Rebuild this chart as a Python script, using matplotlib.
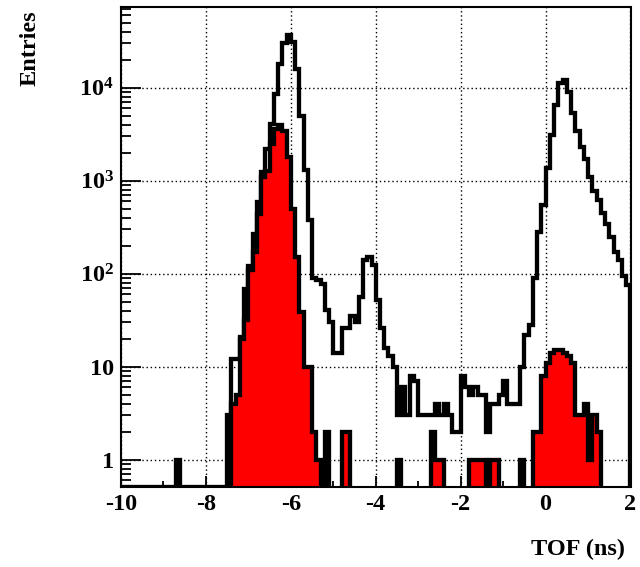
import numpy as np
import matplotlib
matplotlib.use("Agg")
import matplotlib.pyplot as plt
from matplotlib.ticker import FixedLocator, FixedFormatter, LogLocator, NullFormatter

# ---------------- data (TOF histogram, 0.1 ns bins from -10 to 2 ns) ----------------
x_min, x_max, n_bins = -10.0, 2.0, 120

# all entries, bins in rows of 10 (row k starts at -10 + k)
all_counts = [
    0, 0, 0, 0, 0, 0, 0, 0, 0, 0,                                # -10.0 .. -9.1
    0, 0, 0, 1, 0, 0, 0, 0, 0, 0,                                # -9.0 .. -8.1
    0, 0, 0, 0, 0, 3, 12, 12, 21, 68,                            # -8.0 .. -7.1
    122, 267, 588, 1240, 2210, 4100, 8500, 18000, 30500, 37000,  # -7.0 .. -6.1
    31000, 16000, 5000, 1300, 380, 90, 85, 78, 41, 30,           # -6.0 .. -5.1
    14, 14, 26, 26, 35, 30, 56, 140, 150, 123,                   # -5.0 .. -4.1
    52, 26, 16, 13, 10, 3, 6, 3, 8, 7,                           # -4.0 .. -3.1
    3, 3, 3, 3, 4, 3, 4, 3, 2, 2,                                # -3.0 .. -2.1
    8, 6, 5, 6, 5, 5, 2, 4, 4, 5,                                # -2.0 .. -1.1
    7, 4, 4, 4, 10, 22, 28, 90, 285, 550,                        # -1.0 .. -0.1
    1370, 3100, 6500, 11200, 12200, 9000, 5300, 3400, 2300, 1700,  # 0.0 .. 0.9
    1100, 770, 620, 450, 340, 250, 170, 140, 94, 76,             # 1.0 .. 1.9
]

# selected entries (red)
selected_counts = [
    0, 0, 0, 0, 0, 0, 0, 0, 0, 0,
    0, 0, 0, 0, 0, 0, 0, 0, 0, 0,
    0, 0, 0, 0, 0, 0, 4, 5, 20, 32,
    110, 170, 440, 1100, 1280, 2500, 3600, 4000, 3400, 1800,
    500, 150, 39, 10, 10, 2, 1, 0, 2, 0,
    0, 0, 2, 2, 0, 0, 0, 0, 0, 0,
    0, 0, 0, 0, 0, 1, 0, 0, 0, 0,
    0, 0, 0, 2, 1, 1, 0, 0, 0, 0,
    0, 0, 1, 1, 1, 1, 0, 1, 1, 0,
    0, 0, 0, 0, 1, 0, 0, 2, 2, 8,
    11, 14, 15, 15, 14, 13, 11, 3, 3, 4,
    1, 3, 2, 0, 0, 0, 0, 0, 0, 0,
]

x_tick_values = [-10, -8, -6, -4, -2, 0, 2]
y_tick_values = [1, 10, 100, 1000, 10000]
y_tick_labels = ["1", "10", r"$10^{2}$", r"$10^{3}$", r"$10^{4}$"]
y_range = (0.51, 7.4e4)
x_title = "TOF (ns)"
y_title = "Entries"

# ---------------- style ----------------
plt.rcParams["font.family"] = ["Liberation Serif", "DejaVu Serif"]
plt.rcParams["font.weight"] = "bold"
plt.rcParams["mathtext.fontset"] = "custom"
plt.rcParams["mathtext.rm"] = "Liberation Serif:bold"
plt.rcParams["mathtext.it"] = "Liberation Serif:bold"
plt.rcParams["mathtext.bf"] = "Liberation Serif:bold"
plt.rcParams["mathtext.default"] = "rm"

W, H = 640, 567
fig = plt.figure(figsize=(W / 100, H / 100), dpi=100)
fig.patch.set_facecolor("white")
ax = fig.add_axes([121 / W, 1 - 487 / H, (630.5 - 121) / W, (487 - 7) / H])

edges = np.linspace(x_min, x_max, n_bins + 1)
allv = np.array(all_counts, dtype=float)
selv = np.array(selected_counts, dtype=float)
floor = y_range[0]          # empty bins sit on the frame bottom, as in ROOT
allv_plot = np.where(allv > 0, allv, floor)
selv_plot = np.where(selv > 0, selv, 1e-3)

ax.set_yscale("log")
ax.set_xlim(x_min, x_max)
ax.set_ylim(*y_range)

ax.set_axisbelow(True)
ax.grid(True, which="major", linestyle=(0, (1, 2)), color="black", lw=1.0)

LW = 3.1
h_all = ax.stairs(allv_plot, edges, color="black", lw=LW, baseline=floor, zorder=3)
h_all.set_joinstyle("miter")
h_sel = ax.stairs(selv_plot, edges, fill=True, facecolor="red", edgecolor="black",
                  lw=LW, baseline=1e-3, zorder=4)
h_sel.set_joinstyle("miter")

# axes & ticks
ax.xaxis.set_major_locator(FixedLocator(x_tick_values))
ax.xaxis.set_major_formatter(FixedFormatter([str(v) for v in x_tick_values]))
ax.xaxis.set_minor_locator(FixedLocator(np.arange(x_min, x_max + 0.01, 1.0)))
ax.yaxis.set_major_locator(FixedLocator(y_tick_values))
ax.yaxis.set_major_formatter(FixedFormatter(y_tick_labels))
ax.yaxis.set_minor_locator(LogLocator(base=10, subs=np.arange(2, 10)))
ax.yaxis.set_minor_formatter(NullFormatter())

ax.tick_params(axis="both", which="both", direction="in", top=False, right=False,
               labelsize=17.5, width=1.3, color="black")
ax.tick_params(axis="y", which="major", length=14.5, pad=5)
ax.tick_params(axis="y", which="minor", length=7)
ax.tick_params(axis="x", which="major", length=8, pad=5)
ax.tick_params(axis="x", which="minor", length=4.5)
for lab in ax.get_xticklabels() + ax.get_yticklabels():
    lab.set_fontweight("bold")
for sp in ax.spines.values():
    sp.set_linewidth(1.5)
    sp.set_zorder(5)

fig.text(625 / W, 1 - 549 / H, x_title, ha="right", va="center", fontsize=17.5, fontweight="bold")
fig.text(30 / W, 1 - 10 / H, y_title, ha="center", va="top", rotation=90, fontsize=17.5,
         fontweight="bold")

fig.savefig("out.png", dpi=100)
